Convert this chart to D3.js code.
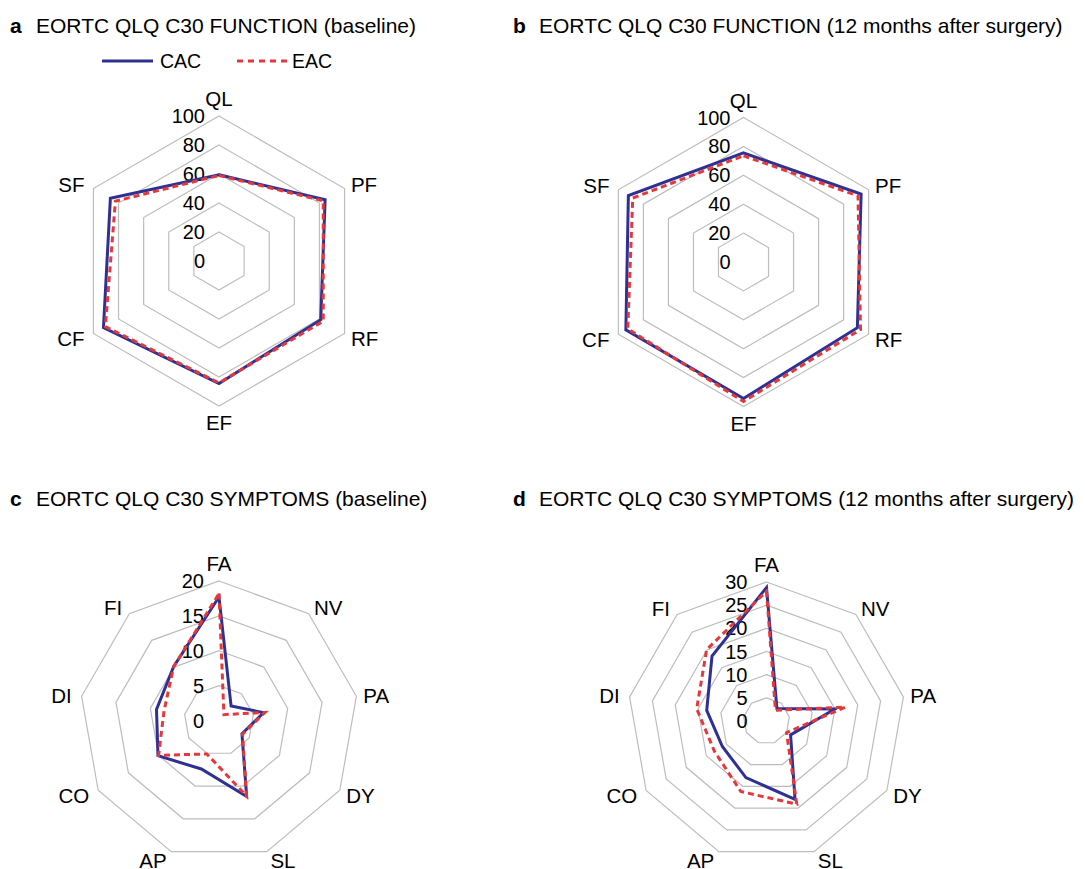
<!DOCTYPE html>
<html>
  <head>
    <meta charset="utf-8">
    <script src="https://d3js.org/d3.v7.min.js"></script>
    <style>
      body { margin: 0; background: #fff; }
      text { font-family: "Liberation Sans", Arial, sans-serif; fill: #000; }
    </style>
  </head>
  <body>
    <div id="my_dataviz"></div>
    <script>
    // function scales (0-100)
    var funcAxes = ["QL", "PF", "RF", "EF", "CF", "SF"];
    var funcTicks = [0, 20, 40, 60, 80, 100];
    var funcBaseCAC = [59.5, 84.5, 81, 84.5, 92, 86.5];
    var funcBaseEAC = [59, 83, 83, 84, 90.5, 82.5];
    var func12CAC = [75.5, 94, 91, 94.5, 94, 92];
    var func12EAC = [73.5, 91.5, 93.5, 96.5, 92.5, 88.5];

    // symptom scales
    var symAxes = ["FA", "NV", "PA", "DY", "SL", "AP", "CO", "DI", "FI"];
    var symBaseTicks = [0, 5, 10, 15, 20];
    var sym12Ticks = [0, 5, 10, 15, 20, 25, 30];
    var symBaseCAC = [17.7, 2.7, 6.5, 3.8, 11.6, 7.4, 10.1, 9.1, 10.1];
    var symBaseEAC = [18.2, 1.1, 6.7, 3.9, 11.5, 5.1, 10.0, 8.0, 10.1];
    var sym12CAC = [28.8, 3.5, 15.0, 6.0, 18.0, 13.0, 11.0, 13.1, 18.3];
    var sym12EAC = [28.0, 3.0, 17.3, 5.0, 19.1, 16.2, 13.0, 15.3, 20.1];

    var seriesNames = ["CAC", "EAC"];
    var blue = "#2e3192", red = "#e5383b";

    var svg = d3.select("#my_dataviz")
      .append("svg")
      .attr("width", 1085)
      .attr("height", 869);

    function title(x, y, letter, txt) {
      var t = svg.append("text").attr("x", x).attr("y", y).style("font-size", "21px");
      t.append("tspan").style("font-weight", "bold").text(letter);
      t.append("tspan").attr("x", x + 26).text(txt);
    }

    function radar(cx, cy, R, axes, ticks, cac, eac, tickGap) {
      var n = axes.length;
      var max = ticks[ticks.length - 1];
      var r = d3.scaleLinear().domain([0, max]).range([0, R]);
      var ang = function (i) { return i * 2 * Math.PI / n; };
      var g = svg.append("g").attr("transform", "translate(" + cx + "," + cy + ")");

      var radial = function (acc) {
        return d3.lineRadial()
          .angle(function (d, i) { return ang(i); })
          .radius(acc)
          .curve(d3.curveLinearClosed);
      };

      // grid rings
      ticks.slice(1).forEach(function (t) {
        g.append("path")
          .datum(axes)
          .attr("fill", "none")
          .attr("stroke", "#bdbdbd")
          .attr("stroke-width", 1.2)
          .attr("d", radial(function () { return r(t); }));
      });

      // tick labels up the first axis
      g.selectAll(".tick")
        .data(ticks)
        .enter().append("text")
        .attr("x", -tickGap)
        .attr("y", function (d) { return -r(d); })
        .attr("dy", "0.35em")
        .attr("text-anchor", "end")
        .style("font-size", "20px")
        .text(function (d) { return d; });

      // axis labels
      axes.forEach(function (a, i) {
        var th = ang(i) - Math.PI / 2;
        var c = Math.cos(th), s = Math.sin(th);
        var vx = R * c, vy = R * s;
        var lx, ly, anchor;
        if (Math.abs(c) < 0.1) {
          lx = vx; ly = vy + s * 17; anchor = "middle";
        } else if (c > 0) {
          lx = vx + c * 5 + 2; ly = vy + s * 9 + 1; anchor = "start";
        } else {
          lx = vx + c * 8 - 2; ly = vy + s * 9 + 1; anchor = "end";
        }
        g.append("text")
          .attr("x", lx)
          .attr("y", ly)
          .attr("dy", "0.35em")
          .attr("text-anchor", anchor)
          .style("font-size", "20.5px")
          .text(a);
      });

      g.append("path")
        .datum(cac)
        .attr("fill", "none")
        .attr("stroke", blue)
        .attr("stroke-width", 3)
        .attr("d", radial(function (d) { return r(d); }));

      g.append("path")
        .datum(eac)
        .attr("fill", "none")
        .attr("stroke", red)
        .attr("stroke-width", 3)
        .attr("stroke-dasharray", "6,4")
        .attr("d", radial(function (d) { return r(d); }));
    }

    title(10, 33, "a", "EORTC QLQ C30 FUNCTION (baseline)");
    title(513, 33, "b", "EORTC QLQ C30 FUNCTION (12 months after surgery)");
    title(10, 506, "c", "EORTC QLQ C30 SYMPTOMS (baseline)");
    title(513, 506, "d", "EORTC QLQ C30 SYMPTOMS (12 months after surgery)");

    // legend
    var leg = svg.append("g").attr("transform", "translate(102,61)");
    leg.append("line").attr("x1", 0).attr("x2", 51).attr("stroke", blue).attr("stroke-width", 3);
    leg.append("text").attr("x", 58).attr("dy", "0.35em").style("font-size", "19.5px").text(seriesNames[0]);
    leg.append("line").attr("x1", 135).attr("x2", 186).attr("stroke", red)
      .attr("stroke-width", 3).attr("stroke-dasharray", "6,5");
    leg.append("text").attr("x", 190).attr("dy", "0.35em").style("font-size", "19.5px").text(seriesNames[1]);

    radar(219, 261, 145, funcAxes, funcTicks, funcBaseCAC, funcBaseEAC, 14);
    radar(743.5, 262, 144.5, funcAxes, funcTicks, func12CAC, func12EAC, 13);
    radar(219, 720.5, 139.5, symAxes, symBaseTicks, symBaseCAC, symBaseEAC, 15);
    radar(766.5, 721, 139, symAxes, sym12Ticks, sym12CAC, sym12EAC, 19);
    </script>
  </body>
</html>
